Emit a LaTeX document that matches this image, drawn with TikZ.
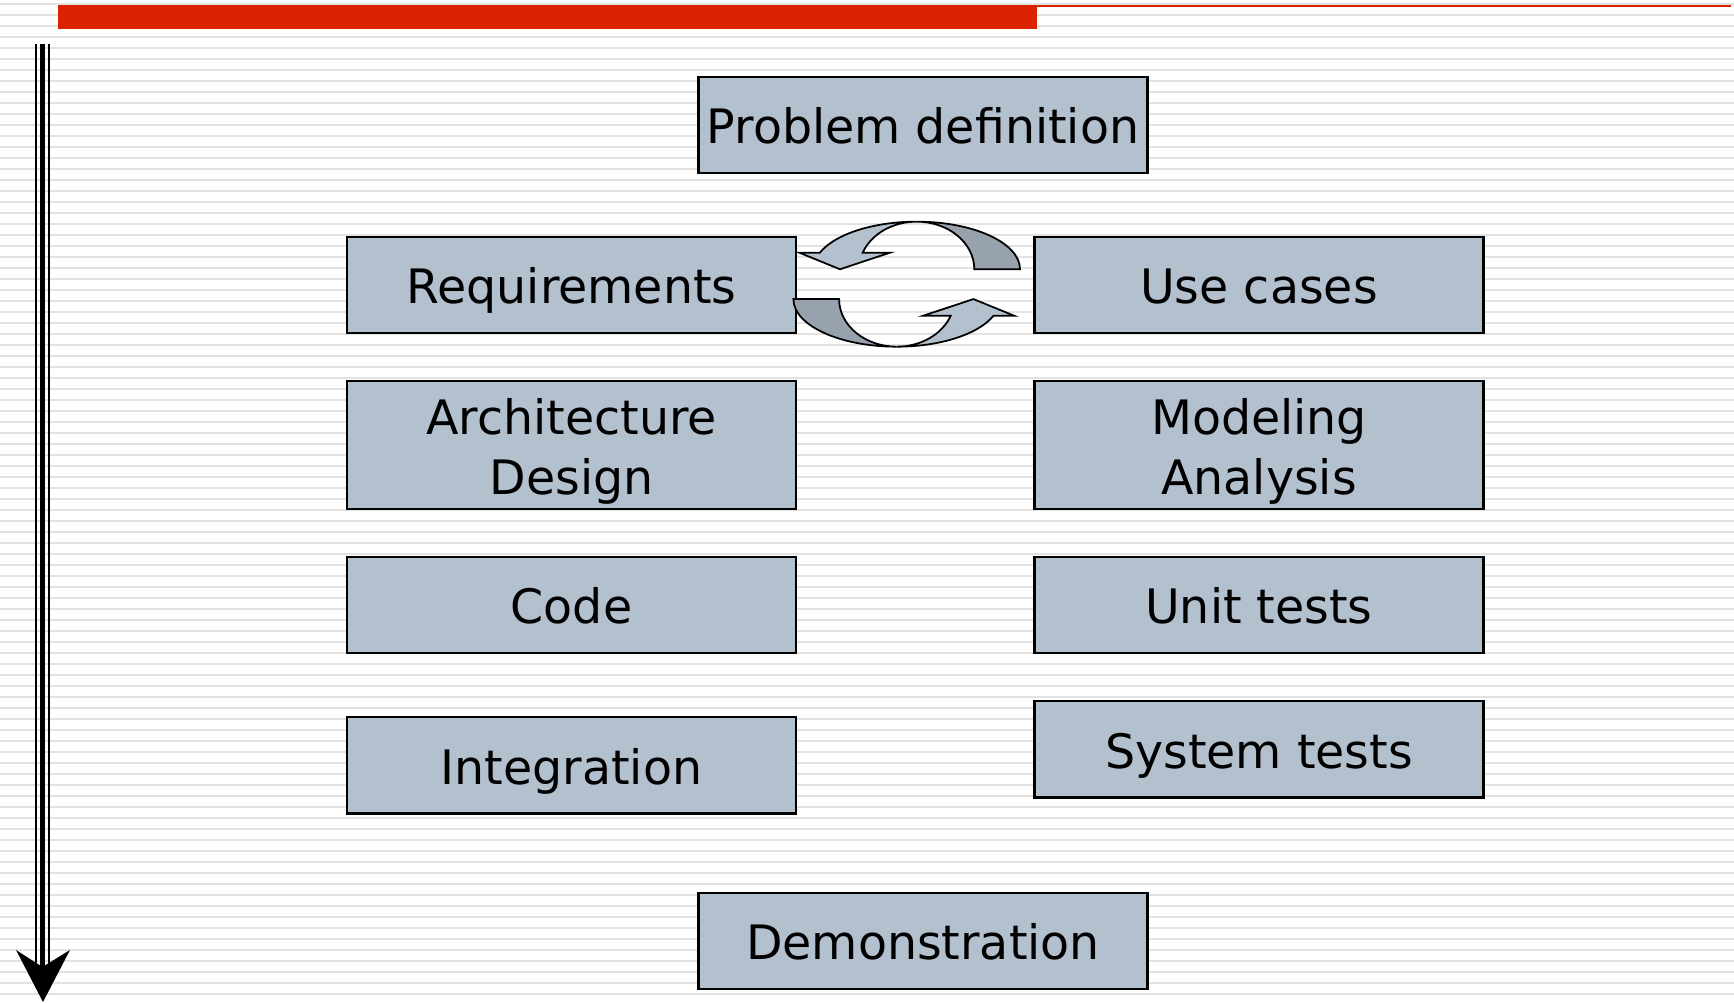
\documentclass[tikz,border=0pt]{standalone}
\usepackage{fontspec}
\setmainfont{DejaVu Sans}
\usetikzlibrary{positioning}

\definecolor{phasefill}{RGB}{179,192,206}
\definecolor{turnfill}{RGB}{152,162,174}
\definecolor{barred}{RGB}{218,35,0}
\definecolor{stripe}{RGB}{226,226,226}

\begin{document}
\begin{tikzpicture}[
    box/.style={draw=black, line width=0.6pt, fill=phasefill, minimum width=4.49cm,
                inner sep=0pt, font=\fontsize{13.5}{17}\selectfont},
    phase/.style={box, minimum height=0.965cm, text height=10.7pt, text depth=0pt},
    phasetwo/.style={box, minimum height=1.285cm, align=center},
    turn/.style={draw=black, line width=0.5pt}]
    \useasboundingbox (0,0) rectangle (17.34,10.03);

    % lined paper and the red header bar
    \fill[white] (0,0) rectangle (17.34,10.03);
    \foreach \k in {0,...,90}
        \draw[stripe, line width=0.025cm] (0,{9.99-0.11*\k}) -- (17.34,{9.99-0.11*\k});
    \fill[barred] (0.58,9.74) rectangle (10.37,9.98);
    \fill[barred] (10.37,9.962) rectangle (17.31,9.98);

    % time axis on the left
    \coordinate (t0) at (0.425,9.59);
    \coordinate (t1) at (0.425,0.34);
    \draw[line width=0.025cm] ([xshift=-0.065cm]t0) -- ([xshift=-0.065cm]t1)
                              ([xshift=0.065cm]t0) -- ([xshift=0.065cm]t1);
    \draw[line width=0.05cm] (t0) -- (t1);
    \fill (0.43,0.01) -- (0.16,0.53) -- (0.425,0.36) -- (0.70,0.53) -- cycle;

    % phases
    \node[phase] (problem) at (9.23,8.78) {Problem definition};
    \node[phase] (req) at (5.715,7.18) {Requirements};
    \node[phase] (usecases) at (12.59,7.18) {Use cases};
    \node[phasetwo] (arch) at (5.715,5.58) {\rule{0pt}{14pt}Architecture\\Design};
    \node[phasetwo] (model) at (12.59,5.58) {\rule{0pt}{14pt}Modeling\\Analysis};
    \node[phase] (code) at (5.715,3.98) {Code};
    \node[phase] (unit) at (12.59,3.98) {Unit tests};
    \node[phase] (integ) at (5.715,2.377) {Integration};
    \node[phase] (system) at (12.59,2.537) {System tests};
    \node[phase] (demo) at (9.23,0.62) {Demonstration};

    % round-trip arrows between requirements and use cases
    \foreach \r in {0,180} {
        \begin{scope}[rotate around={\r:(9.067,7.188)}]
            \filldraw[turn, fill=phasefill] (7.993,7.503) -- (8.40,7.337) -- (8.90,7.503) -- (8.627,7.503)
                arc[start angle=159.6, end angle=90, x radius=0.576, y radius=0.476]
                arc[start angle=90, end angle=159.6, x radius=1.033, y radius=0.476] -- cycle;
            \filldraw[turn, fill=turnfill] (9.167,7.813)
                arc[start angle=90, end angle=0, x radius=1.033, y radius=0.476] -- (9.743,7.337)
                arc[start angle=0, end angle=90, x radius=0.576, y radius=0.476] -- cycle;
        \end{scope}
    }
\end{tikzpicture}
\end{document}
